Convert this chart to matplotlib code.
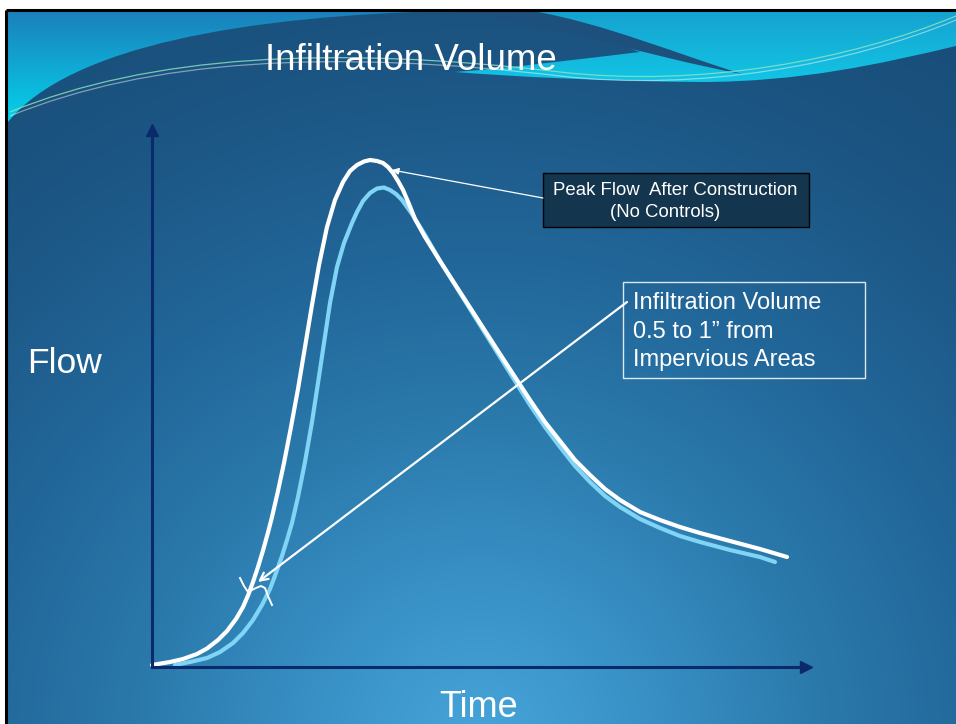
import numpy as np
import matplotlib
matplotlib.use("Agg")
import matplotlib.pyplot as plt
from matplotlib.path import Path
from matplotlib.patches import PathPatch, Rectangle
from matplotlib.colors import to_rgb

plt.rcParams['font.family'] = ['Liberation Sans', 'DejaVu Sans']

# Hydrograph readings (time, flow in arbitrary units)
post_time = [0.0, 1.8, 3.1, 4.5, 5.5, 6.6, 7.5, 8.4, 9.1, 9.6, 10.1, 10.6, 11.1, 11.6,
             12.0, 12.6, 13.2, 13.9, 14.6, 15.3, 16.0, 16.7, 17.5, 18.3, 19.1, 19.8,
             20.5, 21.2, 21.8, 22.5, 23.1, 23.6, 24.1, 24.6, 25.1, 25.7, 26.3, 27.3,
             28.8, 30.8, 32.8, 34.8, 36.3, 37.8, 39.3, 40.8, 42.3, 43.8, 45.3, 46.8,
             48.8, 50.8, 52.8, 54.8, 57.8, 60.8, 63.5]
post_flow = [0.2, 0.5, 0.8, 1.3, 1.85, 2.7, 3.6, 4.8, 6.0, 7.15, 8.5, 10.0, 11.65, 13.45,
             15.0, 17.6, 20.4, 24.0, 27.8, 32.0, 36.2, 40.2, 44.0, 46.7, 48.5, 49.6,
             50.2, 50.55, 50.7, 50.6, 50.4, 50.0, 49.4, 48.6, 47.7, 46.3, 44.8, 43.0,
             40.6, 37.5, 34.4, 31.3, 29.0, 26.7, 24.5, 22.6, 20.7, 19.2, 17.8, 16.7,
             15.5, 14.7, 14.0, 13.4, 12.6, 11.8, 11.0]

ctrl_time = [2.3, 3.8, 5.5, 6.8, 8.1, 9.1, 10.1, 11.0, 11.8, 12.4, 13.0, 13.5, 14.0,
             14.6, 15.3, 16.0, 16.6, 17.2, 17.8, 18.5, 19.2, 20.0, 20.5, 21.1, 21.8,
             22.5, 23.2, 23.8, 24.4, 25.0, 25.5, 26.0, 26.5, 27.3, 28.8, 30.8, 32.8,
             34.8, 36.3, 37.8, 39.3, 40.8, 42.3, 43.8, 45.3, 46.8, 48.8, 50.8, 52.8,
             54.8, 57.8, 60.8, 62.3]
ctrl_flow = [0.2, 0.5, 0.9, 1.5, 2.4, 3.4, 4.7, 6.2, 7.8, 9.4, 11.1, 12.7, 14.4,
             17.0, 20.5, 24.5, 28.4, 32.4, 36.4, 40.0, 42.4, 44.4, 45.5, 46.6, 47.4,
             47.85, 47.95, 47.7, 47.3, 46.7, 46.0, 45.3, 44.5, 43.2, 40.6, 37.4, 34.2,
             31.0, 28.6, 26.2, 24.0, 22.0, 20.1, 18.5, 17.1, 16.0, 14.8, 13.9, 13.1,
             12.5, 11.7, 11.0, 10.5]

# small hand-drawn break mark where the infiltration arrow lands
mark_time = [8.8, 9.2, 9.6, 10.0, 10.4, 10.9, 11.3, 11.6, 12.0]
mark_flow = [8.9, 8.1, 7.5, 7.7, 7.9, 8.1, 7.9, 7.1, 6.2]

title = "Infiltration Volume"
peak_label = ["Peak Flow  After Construction", "(No Controls)"]
infil_label = ["Infiltration Volume", "0.5 to 1\u201d from", "Impervious Areas"]

W, H = 956, 724
fig = plt.figure(figsize=(W / 100, H / 100), dpi=100, facecolor="white")

# slide background in pixel coordinates
bg = fig.add_axes([0, 0, 1, 1], zorder=0)
bg.set_xlim(0, W)
bg.set_ylim(H, 0)
bg.axis("off")

x0, y0 = 8, 11
xs = np.arange(x0, W) + 0.5
ys = np.arange(y0, H) + 0.5
X, Y = np.meshgrid(xs, ys)
d = np.hypot(X - 480, (Y - 740) * 1.05)
stops_d = [0, 150, 350, 500, 700, 950]
stops_c = [to_rgb(c) for c in ["#47a5d9", "#3a93c8", "#2a78aa", "#22679a", "#1c5684", "#174a74"]]
img = np.dstack([np.interp(d, stops_d, [c[i] for c in stops_c]) for i in range(3)])
bg.imshow(img, extent=[x0, W, H, y0], origin="upper", aspect="auto", zorder=0)

gy = np.linspace(0, 1, 120)[:, None] * np.ones((1, 10))

# top-left cyan sweep
left_path = Path([(x0, y0), (445, y0), (250, 16), (70, 45), (x0, 122), (x0, y0)],
                 [Path.MOVETO, Path.LINETO, Path.CURVE4, Path.CURVE4, Path.CURVE4, Path.CLOSEPOLY])
left_patch = PathPatch(left_path, facecolor="none", edgecolor="none")
bg.add_patch(left_patch)
grad_a = np.dstack([np.interp(gy, [0, 1], [a, b]) for a, b in zip(to_rgb("#1b80bb"), to_rgb("#04d4ec"))])
im_a = bg.imshow(grad_a, extent=[x0, 450, 125, y0], origin="upper", aspect="auto", zorder=1)
im_a.set_clip_path(left_patch)

# top-right cyan band
right_path = Path([(530, y0), (W, y0), (W, 46),
                   (880, 64), (800, 82), (700, 82),
                   (600, 81), (520, 77), (455, 72),
                   (520, 67), (580, 59), (640, 52),
                   (530, y0)],
                  [Path.MOVETO, Path.LINETO, Path.LINETO,
                   Path.CURVE4, Path.CURVE4, Path.CURVE4,
                   Path.CURVE4, Path.CURVE4, Path.CURVE4,
                   Path.CURVE4, Path.CURVE4, Path.CURVE4,
                   Path.CLOSEPOLY])
right_patch = PathPatch(right_path, facecolor="none", edgecolor="none")
bg.add_patch(right_patch)
grad_c = np.dstack([np.interp(gy, [0, 1], [a, b]) for a, b in zip(to_rgb("#16a2d0"), to_rgb("#12c8e6"))])
im_c = bg.imshow(grad_c, extent=[440, W, 88, y0], origin="upper", aspect="auto", zorder=1)
im_c.set_clip_path(right_patch)

# dark stripe crossing the cyan band
stripe = Path([(440, y0), (540, 20), (640, 55), (742, 74),
               (680, 55), (600, 22), (532, y0), (440, y0)],
              [Path.MOVETO, Path.CURVE4, Path.CURVE4, Path.CURVE4,
               Path.CURVE4, Path.CURVE4, Path.CURVE4, Path.CLOSEPOLY])
bg.add_patch(PathPatch(stripe, facecolor="#1d507d", edgecolor="none", zorder=2))

# thin ribbon lines
for dy, col, a in [(0, "#8fe6c0", 0.8), (4, "#ffffff", 0.45)]:
    rib = Path([(10, 112 + dy), (150, 55 + dy), (330, 45 + dy), (560, 72 + dy),
                (700, 88 + dy), (850, 60 + dy), (W, 16 + dy)],
               [Path.MOVETO, Path.CURVE4, Path.CURVE4, Path.CURVE4,
                Path.CURVE4, Path.CURVE4, Path.CURVE4])
    bg.add_patch(PathPatch(rib, facecolor="none", edgecolor=col, lw=0.9, alpha=a, zorder=3))

# slide frame
bg.plot([6.5, 6.5], [9.5, H], color="black", lw=2.2, solid_capstyle="butt", zorder=4)
bg.plot([6.5, W], [9.5, 9.5], color="black", lw=2.2, solid_capstyle="butt", zorder=4)

# titles and axis names
bg.text(265, 70, title, color="white", fontsize=26.5, ha="left", va="baseline", zorder=5)
bg.text(27, 373, "Flow", color="white", fontsize=25.5, ha="left", va="baseline", zorder=5)
bg.text(439, 717, "Time", color="white", fontsize=26, ha="left", va="baseline", zorder=5)

# callout boxes
bg.add_patch(Rectangle((543, 173), 266, 54, facecolor="#14334b", edgecolor="black",
                       lw=1.0, alpha=0.95, zorder=5))
bg.text(553, 195, peak_label[0], color="white", fontsize=13.4, ha="left", va="baseline", zorder=6)
bg.text(610, 217, peak_label[1], color="white", fontsize=13.4, ha="left", va="baseline", zorder=6)

bg.add_patch(Rectangle((623, 282), 242, 96, facecolor="none", edgecolor="white",
                       lw=1.0, alpha=0.85, zorder=5))
for i, line in enumerate(infil_label):
    bg.text(633, 309 + 28.5 * i, line, color="white", fontsize=17, ha="left",
            va="baseline", zorder=6)

# hydrograph axes
ax = fig.add_axes([152 / W, 57 / H, 654 / W, 537 / H], zorder=2)
ax.set_facecolor("none")
ax.set_xlim(0, 65.4)
ax.set_ylim(0, 53.7)
navy = "#0b2a6b"
for side in ["top", "right"]:
    ax.spines[side].set_visible(False)
for side in ["left", "bottom"]:
    ax.spines[side].set_color(navy)
    ax.spines[side].set_linewidth(2.2)
ax.set_xticks([])
ax.set_yticks([])
ax.plot([0], [1], marker="^", color=navy, markersize=9, transform=ax.transAxes, clip_on=False)
ax.plot([1], [0], marker=">", color=navy, markersize=9, transform=ax.transAxes, clip_on=False)

ax.plot(ctrl_time, ctrl_flow, color="#80d4f6", lw=3.0, solid_capstyle="round",
        solid_joinstyle="round", clip_on=False)
ax.plot(post_time, post_flow, color="white", lw=3.0, solid_capstyle="round",
        solid_joinstyle="round", clip_on=False)
ax.plot(mark_time, mark_flow, color="white", lw=1.4, clip_on=False)

# callout arrows
ax.annotate("", xy=(24.0, 49.7), xytext=(543, 198), textcoords=bg.transData,
            arrowprops=dict(arrowstyle="-|>", color="white", lw=0.9,
                            mutation_scale=10, shrinkA=0, shrinkB=0))
ax.annotate("", xy=(10.6, 8.5), xytext=(627, 302), textcoords=bg.transData,
            arrowprops=dict(arrowstyle="->", color="white", lw=1.6,
                            mutation_scale=14, shrinkA=0, shrinkB=0))

fig.savefig("out.png", dpi=100, facecolor="white")
